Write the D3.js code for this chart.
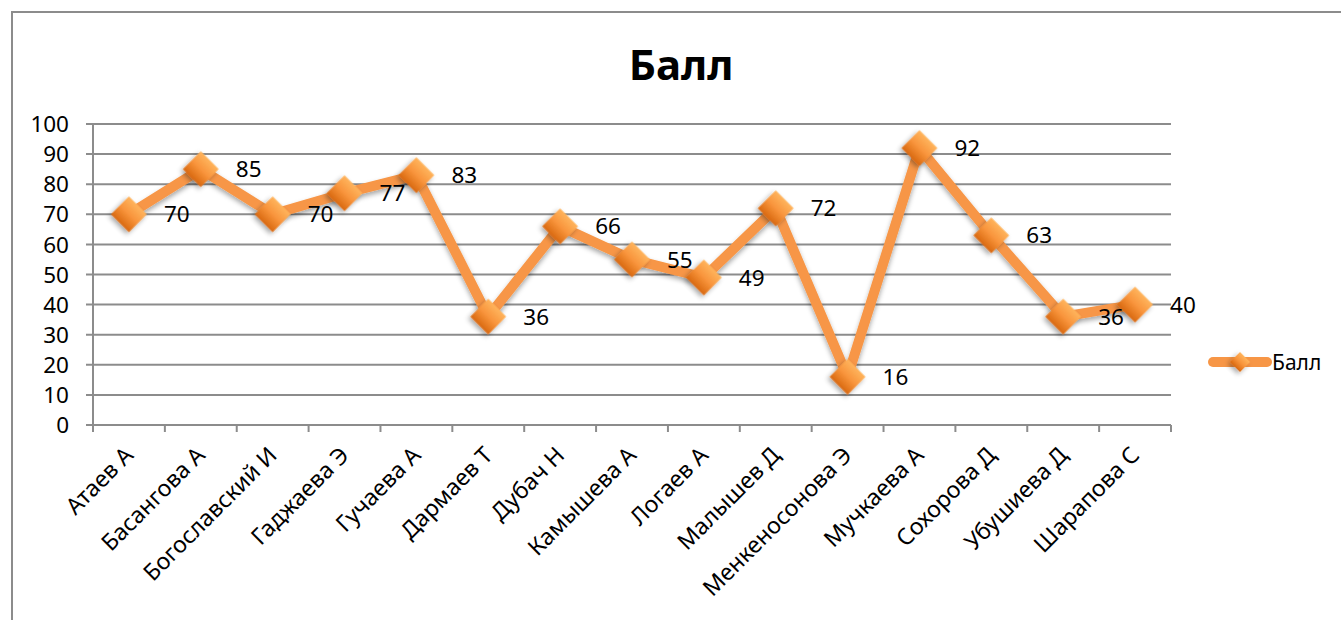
<!DOCTYPE html>
<html>
<head>
<meta charset="utf-8">
<script src="https://cdn.jsdelivr.net/npm/d3@7"></script>
<style>
  body { margin: 0; background: #fff; }
  svg { display: block; font-family: "Noto Sans", "Open Sans", sans-serif; }
</style>
</head>
<body>
<svg width="1341" height="620"></svg>
<script>
// data
var names = ["Атаев А", "Басангова А", "Богославский И", "Гаджаева Э", "Гучаева А",
  "Дармаев Т", "Дубач Н", "Камышева А", "Логаев А", "Малышев Д",
  "Менкеносонова Э", "Мучкаева А", "Сохорова Д", "Убушиева Д", "Шарапова С"];
var scores = [70, 85, 70, 77, 83, 36, 66, 55, 49, 72, 16, 92, 63, 36, 40];
var yTicks = [0, 10, 20, 30, 40, 50, 60, 70, 80, 90, 100];
var seriesName = "Балл";

var data = names.map(function(n, i) { return { name: n, value: scores[i] }; });

var svg = d3.select("svg"),
    margin = {top: 124, right: 170, bottom: 195, left: 93},
    width = 1341 - margin.left - margin.right,
    height = 620 - margin.top - margin.bottom;

var grey = "#8c8c8c", orange = "#f79646";

// chart frame
svg.append("rect")
    .attr("x", 12).attr("y", 12)
    .attr("width", 1400).attr("height", 700)
    .attr("fill", "none").attr("stroke", grey).attr("stroke-width", 2);

var defs = svg.append("defs");
var grad = defs.append("linearGradient")
    .attr("id", "mk").attr("x1", 0).attr("y1", 0).attr("x2", 0).attr("y2", 1);
grad.append("stop").attr("offset", "0%").attr("stop-color", "#ffb45c");
grad.append("stop").attr("offset", "50%").attr("stop-color", "#f8943c");
grad.append("stop").attr("offset", "100%").attr("stop-color", "#d9690f");

var shadow = defs.append("filter").attr("id", "sh")
    .attr("x", "-50%").attr("y", "-50%").attr("width", "200%").attr("height", "200%");
shadow.append("feDropShadow")
    .attr("dx", 0).attr("dy", 3).attr("stdDeviation", 2.5)
    .attr("flood-color", "#000").attr("flood-opacity", 0.35);

svg.append("text")
    .attr("x", 681).attr("y", 80)
    .attr("text-anchor", "middle")
    .attr("font-size", 42).attr("font-weight", "bold")
    .text(seriesName);

var g = svg.append("g").attr("transform", "translate(" + margin.left + "," + margin.top + ")");

var x = d3.scaleBand().domain(names).range([0, width]);
var y = d3.scaleLinear().domain([0, 100]).range([height, 0]);

// gridlines
g.append("g").selectAll("line")
  .data(yTicks)
  .enter().append("line")
    .attr("x1", -7).attr("x2", width)
    .attr("y1", function(d) { return y(d); })
    .attr("y2", function(d) { return y(d); })
    .attr("stroke", grey).attr("stroke-width", 2);

g.append("g").selectAll("text")
  .data(yTicks)
  .enter().append("text")
    .attr("x", -24)
    .attr("y", function(d) { return y(d); })
    .attr("dy", "0.36em")
    .attr("text-anchor", "end")
    .attr("font-size", 22.5)
    .text(function(d) { return d; });

// axes lines
g.append("line").attr("x1", 0).attr("x2", 0).attr("y1", 0).attr("y2", height)
    .attr("stroke", grey).attr("stroke-width", 2);

var bounds = names.map(function(n) { return x(n); }).concat([width]);
g.append("g").selectAll("line")
  .data(bounds)
  .enter().append("line")
    .attr("x1", function(d) { return d; }).attr("x2", function(d) { return d; })
    .attr("y1", height).attr("y2", height + 7)
    .attr("stroke", grey).attr("stroke-width", 2);

g.append("g").selectAll("text")
  .data(names)
  .enter().append("text")
    .attr("transform", function(d) {
      return "translate(" + (x(d) + x.bandwidth() / 2) + "," + (height + 26) + ") rotate(-45)";
    })
    .attr("text-anchor", "end")
    .attr("dy", "0.35em")
    .attr("font-size", 23)
    .text(function(d) { return d; });

// series line
var line = d3.line()
    .x(function(d) { return x(d.name) + x.bandwidth() / 2; })
    .y(function(d) { return y(d.value); });

g.append("path")
    .datum(data)
    .attr("d", line)
    .attr("fill", "none")
    .attr("stroke", orange).attr("stroke-width", 10)
    .attr("stroke-linejoin", "round")
    .attr("filter", "url(#sh)");

var diamond = d3.symbol().type(d3.symbolSquare).size(640);

g.append("g").selectAll("path")
  .data(data)
  .enter().append("path")
    .attr("d", diamond)
    .attr("transform", function(d) {
      return "translate(" + (x(d.name) + x.bandwidth() / 2) + "," + y(d.value) + ") rotate(45)";
    })
    .attr("fill", "url(#mk)")
    .attr("filter", "url(#sh)");

g.append("g").selectAll("text")
  .data(data)
  .enter().append("text")
    .attr("x", function(d) { return x(d.name) + x.bandwidth() / 2 + 35; })
    .attr("y", function(d) { return y(d.value); })
    .attr("dy", "0.36em")
    .attr("font-size", 22.5)
    .text(function(d) { return d.value; });

// legend
var legend = svg.append("g").attr("transform", "translate(1240,362)");
legend.append("line")
    .attr("x1", -27).attr("x2", 27)
    .attr("stroke", orange).attr("stroke-width", 10).attr("stroke-linecap", "round");
legend.append("path")
    .attr("d", d3.symbol().type(d3.symbolSquare).size(200))
    .attr("transform", "rotate(45)")
    .attr("fill", "url(#mk)")
    .attr("filter", "url(#sh)");
legend.append("text")
    .attr("x", 32).attr("dy", "0.36em")
    .attr("font-size", 21)
    .text(seriesName);
</script>
</body>
</html>
